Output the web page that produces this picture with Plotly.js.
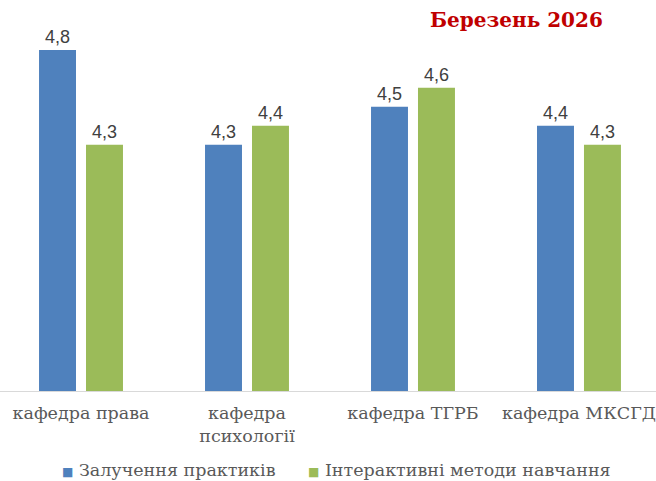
<!DOCTYPE html>
<html>
<head>
<meta charset="utf-8">
<script src="https://cdn.plot.ly/plotly-3.0.1.min.js"></script>
<style>html,body{margin:0;padding:0;background:#fff;}#chart{width:656px;height:481px;}</style>
</head>
<body>
<div id="chart"></div>
<script>
const categories = ["кафедра права", "кафедра<br>психології", "кафедра ТГРБ", "кафедра МКСГД"];
const seriesNames = ["Залучення практиків", "Інтерактивні методи навчання"];
const seriesColors = ["#4F81BD", "#9BBB59"];
const practitioners = [4.8, 4.3, 4.5, 4.4];
const interactive = [4.3, 4.4, 4.6, 4.3];
const titleText = "Березень 2026";

const labelFont = {family: "Liberation Sans, Arial, sans-serif", size: 18, color: "#404040"};
const fmt = v => v.toFixed(1).replace(".", ",");
const traces = [
  {type: "bar", name: seriesNames[0], x: categories, y: practitioners,
   marker: {color: seriesColors[0]}, text: practitioners.map(fmt),
   textposition: "outside", textfont: labelFont, cliponaxis: false, hoverinfo: "none"},
  {type: "bar", name: seriesNames[1], x: categories, y: interactive,
   marker: {color: seriesColors[1]}, text: interactive.map(fmt),
   textposition: "outside", textfont: labelFont, cliponaxis: false, hoverinfo: "none"}
];
const legendX = [0.092, 0.466];
const legendAnn = seriesNames.map((n, i) => ({
  text: "<span style='color:" + seriesColors[i] + ";font-size:12px'>■</span> " + n,
  xref: "paper", yref: "paper", x: legendX[i], y: -0.208, xanchor: "left", yanchor: "middle",
  showarrow: false, font: {family: "DejaVu Serif, serif", size: 17.5, color: "#595959"}
}));
const layout = {
  width: 656, height: 481,
  margin: {l: 0, r: 0, t: 12, b: 90},
  paper_bgcolor: "#fff", plot_bgcolor: "#fff",
  barmode: "group", bargap: 0.434, bargroupgap: 0.213,
  separators: ", ",
  font: {family: "DejaVu Serif, serif", size: 17, color: "#595959"},
  xaxis: {type: "category", range: [-0.488, 3.464], showline: true, linecolor: "#D9D9D9", linewidth: 1,
          ticks: "", ticklabelstandoff: 6,
          tickfont: {family: "DejaVu Serif, serif", size: 17.5, color: "#595959"}, fixedrange: true},
  yaxis: {range: [3, 5], visible: false, showgrid: false, zeroline: false, fixedrange: true},
  showlegend: false,
  annotations: [{text: "<b>" + titleText + "</b>", xref: "paper", yref: "paper", x: 0.788, y: 0.979, xanchor: "center", yanchor: "middle",
                 showarrow: false, font: {family: "DejaVu Serif, serif", size: 20, color: "#C00000"}}].concat(legendAnn)
};
Plotly.newPlot("chart", traces, layout, {displayModeBar: false, staticPlot: true});
</script>
</body>
</html>
